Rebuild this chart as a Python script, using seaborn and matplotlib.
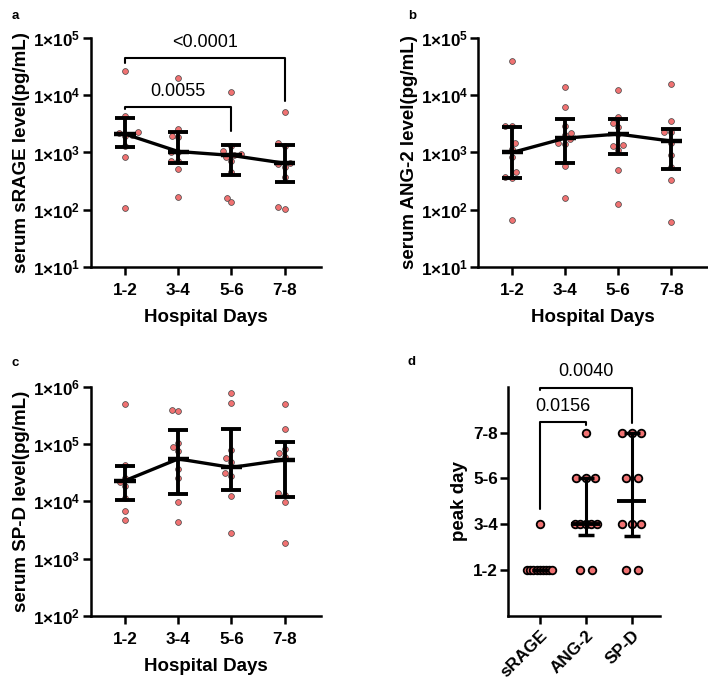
import numpy as np
import pandas as pd
import matplotlib
matplotlib.use('Agg')
import matplotlib.pyplot as plt
import seaborn as sns
from matplotlib.ticker import FuncFormatter, NullLocator

# categories
days = ['1-2', '3-4', '5-6', '7-8']
markers = ['sRAGE', 'ANG-2', 'SP-D']

# panel a - serum sRAGE (pg/mL), one list per hospital-day group
srage_vals = [
    [27000, 4400, 2300, 2050, 2150, 1300, 830, 107, 1950],
    [20400, 2580, 1830, 1970, 1040, 1000, 720, 700, 510, 168],
    [11200, 1300, 1070, 960, 900, 850, 710, 450, 163, 135],
    [5000, 1450, 1300, 660, 620, 550, 380, 110, 102],
]
srage_med = [2100, 1040, 890, 650]
srage_q1 = [1260, 650, 410, 310]
srage_q3 = [4000, 2250, 1350, 1350]

# panel b - serum ANG-2
ang2_vals = [
    [40000, 2950, 2900, 1450, 1150, 850, 450, 380, 365, 66],
    [14100, 6200, 2900, 2200, 2050, 1700, 1450, 1390, 570, 162],
    [12300, 4250, 3300, 2760, 2100, 1330, 1320, 1100, 500, 125],
    [15500, 3550, 2300, 2300, 1450, 910, 550, 330, 62],
]
ang2_med = [1000, 1780, 2100, 1580]
ang2_q1 = [365, 660, 950, 520]
ang2_q3 = [2800, 3800, 3900, 2600]

# panel c - serum SP-D
spd_vals = [
    [500000, 43000, 26000, 22000, 18500, 11500, 6700, 4700],
    [400000, 380000, 105000, 89000, 76000, 36000, 26000, 9800, 4400],
    [785000, 510000, 79000, 57000, 49000, 31000, 28000, 12300, 2750],
    [500000, 180000, 82000, 69000, 59000, 13800, 13000, 9800, 1870],
]
spd_med = [23000, 55000, 39000, 53000]
spd_q1 = [10500, 13700, 15800, 12000]
spd_q3 = [42000, 173000, 180000, 107000]

# panel d - peak day for each marker
peak_srage = ['1-2'] * 9 + ['3-4']
peak_ang2 = ['1-2'] * 2 + ['3-4'] * 5 + ['5-6'] * 3 + ['7-8']
peak_spd = ['1-2'] * 2 + ['3-4'] * 3 + ['5-6'] * 2 + ['7-8'] * 3
peak_med = [1, 2, 2.5]
peak_q1 = [1, 1.77, 1.75]
peak_q3 = [1, 3, 4]

dot_color = '#f07272'

sns.set_style('ticks')
plt.rcParams['font.family'] = ['Liberation Sans', 'DejaVu Sans']
plt.rcParams['font.weight'] = 'bold'
plt.rcParams['axes.labelweight'] = 'bold'
for key in ['text.color', 'axes.labelcolor', 'xtick.color', 'ytick.color', 'axes.edgecolor']:
    plt.rcParams[key] = 'black'
plt.rcParams['mathtext.fontset'] = 'custom'
plt.rcParams['mathtext.rm'] = 'Liberation Sans:bold'
plt.rcParams['mathtext.bf'] = 'Liberation Sans:bold'
plt.rcParams['mathtext.it'] = 'Liberation Sans:bold'


def sci(v, pos):
    return r'$1×10^{%d}$' % int(round(np.log10(v)))


def style_axes(ax):
    sns.despine(ax=ax)
    for s in ['left', 'bottom']:
        ax.spines[s].set_linewidth(1.8)
    ax.tick_params(width=1.8, length=5.5, labelsize=12.3, pad=2)
    ax.tick_params(axis='x', pad=6)


def log_panel(ax, vals, med, q1, q3, ylabel, ylim):
    df = pd.DataFrame({'day': np.repeat(days, [len(v) for v in vals]),
                       'value': np.concatenate(vals)})
    sns.swarmplot(data=df, x='day', y='value', order=days, ax=ax, log_scale=True,
                  color=dot_color, size=4.2, edgecolor='#444444', linewidth=0.5, zorder=2)
    pos = np.arange(len(days))
    med = np.array(med)
    ax.errorbar(pos, med, yerr=[med - np.array(q1), np.array(q3) - med], fmt='none',
                ecolor='black', elinewidth=2.8, capsize=7.5, capthick=2.8, zorder=3)
    sns.lineplot(x=pos, y=med, ax=ax, color='black', lw=2.4, zorder=4)
    ax.hlines(med, pos - 0.2, pos + 0.2, color='black', lw=3.2, zorder=4)
    ax.set_yscale('log')
    ax.set_ylim(ylim)
    ax.set_xlim(-0.647, 3.68)
    ax.set_yticks(10.0 ** np.arange(np.log10(ylim[0]), np.log10(ylim[1]) + 1))
    ax.yaxis.set_major_formatter(FuncFormatter(sci))
    ax.yaxis.set_minor_locator(NullLocator())
    ax.set_xlabel('Hospital Days', fontsize=13.5, fontweight='bold', labelpad=8)
    ax.set_ylabel(ylabel, fontsize=13.5, fontweight='bold', labelpad=2)
    style_axes(ax)


def bracket(ax, x0, x1, y_top, y_left, y_right, label, y_text):
    ax.plot([x0, x0, x1, x1], [y_left, y_top, y_top, y_right], color='black', lw=1.5,
            clip_on=False, zorder=5)
    ax.text((x0 + x1) / 2, y_text, label, ha='center', va='baseline', fontsize=13,
            fontweight='normal', clip_on=False)


fig = plt.figure(figsize=(7.08, 6.82), dpi=100)
ax_a = fig.add_axes([0.1281, 0.6085, 0.3249, 0.3358])
ax_b = fig.add_axes([0.6756, 0.6085, 0.3226, 0.3358])
ax_c = fig.add_axes([0.1281, 0.0968, 0.3249, 0.3362])
ax_d = fig.add_axes([0.7180, 0.0968, 0.2143, 0.3362])

log_panel(ax_a, srage_vals, srage_med, srage_q1, srage_q3, 'serum sRAGE level(pg/mL)', (1e1, 1e5))
log_panel(ax_b, ang2_vals, ang2_med, ang2_q1, ang2_q3, 'serum ANG-2 level(pg/mL)', (1e1, 1e5))
log_panel(ax_c, spd_vals, spd_med, spd_q1, spd_q3, 'serum SP-D level(pg/mL)', (1e2, 1e6))
ax_b.set_xlim(-0.64, 3.67)

bracket(ax_a, 0, 3, 44300, 36000, 7800, '<0.0001', 69600)
bracket(ax_a, 0, 2, 6200, 5700, 2400, '0.0055', 9840)

# panel d: dots spread sideways within each group
rows = []
for i, vals in enumerate([peak_srage, peak_ang2, peak_spd]):
    for lvl in days:
        n = vals.count(lvl)
        if n == 0:
            continue
        step = min(0.26, 0.6 / n)
        offs = (np.arange(n) - (n - 1) / 2) * step
        for o in offs:
            rows.append({'x': i + o, 'y': days.index(lvl) + 1})
peak_df = pd.DataFrame(rows)
sns.scatterplot(data=peak_df, x='x', y='y', ax=ax_d, color=dot_color, s=30,
                edgecolor='black', linewidth=1.3, zorder=2)
pos = np.arange(len(markers))
pm = np.array(peak_med)
ax_d.errorbar(pos, pm, yerr=[pm - np.array(peak_q1), np.array(peak_q3) - pm], fmt='none',
              ecolor='black', elinewidth=2.2, capsize=6, capthick=2.5, zorder=3)
ax_d.hlines(pm[1:], pos[1:] - 0.32, pos[1:] + 0.32, color='black', lw=2.8, zorder=3)
ax_d.set_xlim(-0.68, 2.62)
ax_d.set_ylim(0, 5)
ax_d.set_yticks([1, 2, 3, 4])
ax_d.set_yticklabels(days)
ax_d.set_xticks(pos)
ax_d.set_xticklabels(markers, rotation=45, ha='right', rotation_mode='anchor')
ax_d.set_xlabel('')
ax_d.set_ylabel('peak day', fontsize=13.5, fontweight='bold', labelpad=4)
style_axes(ax_d)
ax_d.tick_params(axis='x', pad=3)

bracket(ax_d, 0, 1, 4.22, 2.33, 4.17, '0.0156', 4.46)
bracket(ax_d, 0, 2, 4.98, 4.93, 4.20, '0.0040', 5.24)

for lbl, x, y in [('a', 0.021, 0.977), ('b', 0.582, 0.977), ('c', 0.021, 0.468), ('d', 0.581, 0.469)]:
    fig.text(x, y, lbl, fontsize=9.5, fontweight='bold', ha='center', va='center')

fig.savefig('out.png', dpi=100)
